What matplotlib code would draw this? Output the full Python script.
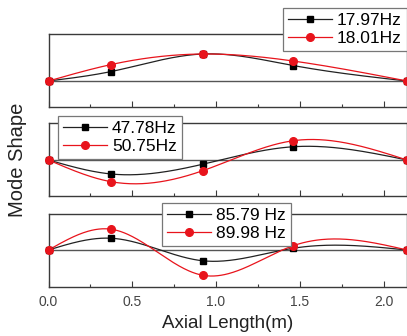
import numpy as np
import matplotlib
matplotlib.use("Agg")
import matplotlib.pyplot as plt
from matplotlib.ticker import MultipleLocator, NullLocator

plt.rcParams['font.family'] = ['Liberation Sans', 'DejaVu Sans']

# Data (axial positions and mode shape amplitudes)
x_pos = [0.0, 0.375, 0.92, 1.46, 2.14]

mode1_black = [0.0, 0.38, 1.08, 0.62, 0.0]
mode1_red = [0.0, 0.66, 1.08, 0.80, 0.0]
mode2_black = [0.0, -0.56, -0.17, 0.53, 0.0]
mode2_red = [0.0, -0.87, -0.43, 0.77, 0.0]
mode3_black = [0.0, 0.47, -0.43, 0.07, 0.0]
mode3_red = [0.0, 0.83, -1.01, 0.17, 0.0]

labels1 = ['17.97Hz', '18.01Hz']
labels2 = ['47.78Hz', '50.75Hz']
labels3 = ['85.79 Hz', '89.98 Hz']

xtick_vals = [0.0, 0.5, 1.0, 1.5, 2.0]
xtick_labels = ['0.0', '0.5', '1.0', '1.5', '2.0']


def natural_spline(x, y, n=300):
    x = np.asarray(x, float)
    y = np.asarray(y, float)
    m = len(x)
    h = np.diff(x)
    A = np.zeros((m, m))
    b = np.zeros(m)
    A[0, 0] = 1
    A[-1, -1] = 1
    for i in range(1, m - 1):
        A[i, i - 1] = h[i - 1]
        A[i, i] = 2 * (h[i - 1] + h[i])
        A[i, i + 1] = h[i]
        b[i] = 6 * ((y[i + 1] - y[i]) / h[i] - (y[i] - y[i - 1]) / h[i - 1])
    M = np.linalg.solve(A, b)
    xs = np.linspace(x[0], x[-1], n)
    ys = np.empty_like(xs)
    for k, xv in enumerate(xs):
        i = min(np.searchsorted(x, xv, side='right') - 1, m - 2)
        i = max(i, 0)
        t1 = x[i + 1] - xv
        t0 = xv - x[i]
        hi = h[i]
        ys[k] = (M[i] * t1 ** 3 / (6 * hi) + M[i + 1] * t0 ** 3 / (6 * hi)
                 + (y[i] / hi - M[i] * hi / 6) * t1
                 + (y[i + 1] / hi - M[i + 1] * hi / 6) * t0)
    return xs, ys


W, H = 407, 336
fig = plt.figure(figsize=(W / 100, H / 100), dpi=100)

left = 48.5 / W
right = 1.0
panels = [
    (34, 107, (-1.04, 1.88), mode1_black, mode1_red, labels1, (283, 8)),
    (123, 196, (-1.44, 1.48), mode2_black, mode2_red, labels2, (58, 116)),
    (214, 287, (-1.48, 1.44), mode3_black, mode3_red, labels3, (162, 203)),
]

spine_col = '#3a3a3a'
for idx, (top, bot, ylim, yb, yr, labs, legpos) in enumerate(panels):
    ax = fig.add_axes([left, 1 - bot / H, right - left, (bot - top) / H])
    ax.set_xlim(0, 2.14)
    ax.set_ylim(*ylim)
    ax.axhline(0, color='#555555', lw=1.0, zorder=1)
    xs, ys = natural_spline(x_pos, yb)
    ax.plot(xs, ys, color='#222222', lw=0.9, zorder=2)
    xs, ys = natural_spline(x_pos, yr)
    ax.plot(xs, ys, color='#e8141c', lw=0.9, zorder=3)
    ax.plot(x_pos, yb, ls='none', marker='s', ms=4.5, color='black', zorder=4, clip_on=False)
    ax.plot(x_pos, yr, ls='none', marker='o', ms=5.5, color='#e8141c', zorder=5, clip_on=False)
    hb, = ax.plot([], [], color='#222222', lw=0.9, marker='s', ms=4.5, mfc='black', mec='black')
    hr, = ax.plot([], [], color='#e8141c', lw=0.9, marker='o', ms=5.5, mfc='#e8141c', mec='#e8141c')
    leg = ax.legend([hb, hr], labs, loc='upper left',
                    bbox_to_anchor=(legpos[0] / W, 1 - legpos[1] / H),
                    bbox_transform=fig.transFigure, fontsize=12.5,
                    fancybox=False, framealpha=1, edgecolor='#777777',
                    handlelength=2.5, handletextpad=0.3, labelspacing=0.12,
                    borderpad=0.3, borderaxespad=0, numpoints=1)
    leg.get_frame().set_linewidth(0.9)
    leg.set_zorder(10)
    for sp in ax.spines.values():
        sp.set_color(spine_col)
        sp.set_linewidth(1.0)
    ax.yaxis.set_major_locator(NullLocator())
    ax.set_xticks(xtick_vals)
    ax.xaxis.set_minor_locator(MultipleLocator(0.25))
    ax.tick_params(axis='x', which='major', direction='in', length=4, width=0.8,
                   color=spine_col, labelsize=10, labelcolor='#444444', pad=6)
    ax.tick_params(axis='x', which='minor', direction='in', length=2.5, width=0.8,
                   color=spine_col)
    if idx < 2:
        ax.set_xticklabels([])
    else:
        ax.set_xticklabels(xtick_labels)
        ax.set_xlabel('Axial Length(m)', fontsize=13.5, color='#222222', labelpad=4)

fig.text(18 / W, 1 - 160 / H, 'Mode Shape', rotation=90, fontsize=14.5,
         color='#222222', ha='center', va='center')

fig.savefig('out.png', dpi=100)
